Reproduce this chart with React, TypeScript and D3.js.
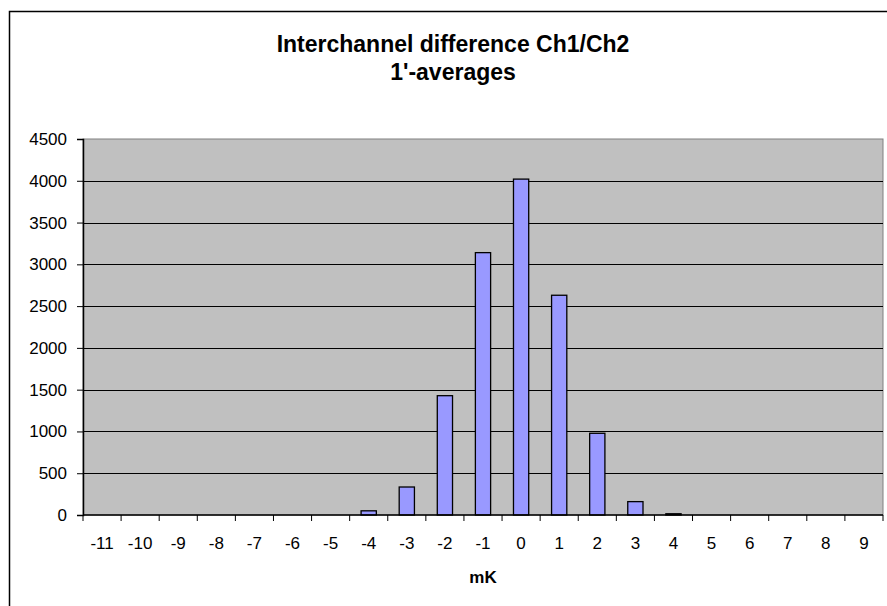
import { useEffect, useRef } from "react"
import * as d3 from "d3"

const categories = ["-11", "-10", "-9", "-8", "-7", "-6", "-5", "-4", "-3", "-2", "-1", "0", "1", "2", "3", "4", "5", "6", "7", "8", "9"]
const counts = [0, 0, 0, 0, 0, 0, 0, 50, 335, 1428, 3140, 4020, 2630, 978, 160, 15, 0, 0, 0, 0, 0]
const yTicks = [0, 500, 1000, 1500, 2000, 2500, 3000, 3500, 4000, 4500]
const titleLines = ["Interchannel difference Ch1/Ch2", "1'-averages"]
const xTitle = "mK"

export default function App() {
  const svgRef = useRef<SVGSVGElement>(null)

  useEffect(() => {
    if (!svgRef.current) return
    const svg = d3.select(svgRef.current)
    svg.selectAll("*").remove()

    const width = 887
    const height = 606
    const plot = { left: 83, right: 883, top: 139, bottom: 515 }
    const font = "'Liberation Sans', Arial, sans-serif"

    svg.append("rect").attr("width", width).attr("height", height).attr("fill", "#fff")

    // outer chart frame (runs off the right and bottom edge)
    svg.append("rect")
      .attr("x", 9.5)
      .attr("y", 11.5)
      .attr("width", 900)
      .attr("height", 620)
      .attr("fill", "none")
      .attr("stroke", "#000")
      .attr("stroke-width", 1.5)

    const x = d3.scaleBand().domain(categories).range([plot.left, plot.right]).padding(0)
    const y = d3.scaleLinear().domain([0, 4500]).range([plot.bottom, plot.top])

    // plot area
    svg.append("rect")
      .attr("x", plot.left)
      .attr("y", plot.top)
      .attr("width", plot.right - plot.left)
      .attr("height", plot.bottom - plot.top)
      .attr("fill", "#c0c0c0")
      .attr("stroke", "#808080")
      .attr("stroke-width", 1)

    // gridlines
    svg.append("g")
      .selectAll("line")
      .data(yTicks.filter((d) => d > 0 && d < 4500))
      .enter()
      .append("line")
      .attr("x1", plot.left)
      .attr("x2", plot.right)
      .attr("y1", (d) => Math.round(y(d)) + 0.5)
      .attr("y2", (d) => Math.round(y(d)) + 0.5)
      .attr("stroke", "#000")
      .attr("stroke-width", 1)

    // bars
    const barW = x.bandwidth() / 2.5
    svg.append("g")
      .selectAll("rect")
      .data(counts)
      .enter()
      .append("rect")
      .attr("x", (_, i) => (x(categories[i]) as number) + (x.bandwidth() - barW) / 2)
      .attr("y", (d) => y(d))
      .attr("width", barW)
      .attr("height", (d) => plot.bottom - y(d))
      .attr("fill", "#9999ff")
      .attr("stroke", (d) => (d > 0 ? "#000" : "none"))
      .attr("stroke-width", 1.3)

    // y axis
    const yAxis = svg.append("g").attr("transform", `translate(${plot.left},0)`)
      .call(d3.axisLeft(y).tickValues(yTicks).tickSize(6).tickPadding(10).tickFormat((d) => String(d)))
    yAxis.select(".domain").attr("stroke", "#000").attr("stroke-width", 1.5)
    yAxis.selectAll(".tick line").attr("stroke", "#000")
    yAxis.selectAll("text").attr("font-family", font).attr("font-size", 17).attr("fill", "#000")

    // x axis: ticks at category boundaries
    const xg = svg.append("g")
    xg.append("line")
      .attr("x1", plot.left)
      .attr("x2", plot.right)
      .attr("y1", plot.bottom)
      .attr("y2", plot.bottom)
      .attr("stroke", "#000")
      .attr("stroke-width", 1.5)
    xg.selectAll(".tk")
      .data(d3.range(categories.length + 1))
      .enter()
      .append("line")
      .attr("x1", (i) => plot.left + i * x.step())
      .attr("x2", (i) => plot.left + i * x.step())
      .attr("y1", plot.bottom)
      .attr("y2", plot.bottom + 6)
      .attr("stroke", "#000")
    xg.selectAll(".lbl")
      .data(categories)
      .enter()
      .append("text")
      .attr("x", (d) => (x(d) as number) + x.bandwidth() / 2)
      .attr("y", 549)
      .attr("text-anchor", "middle")
      .attr("font-family", font)
      .attr("font-size", 17)
      .text((d) => d)

    // titles
    svg.append("text")
      .attr("x", (plot.left + plot.right) / 2)
      .attr("y", 583)
      .attr("text-anchor", "middle")
      .attr("font-family", font)
      .attr("font-weight", "bold")
      .attr("font-size", 17)
      .text(xTitle)

    svg.selectAll(".title")
      .data(titleLines)
      .enter()
      .append("text")
      .attr("x", 453)
      .attr("y", (_, i) => 52 + i * 28)
      .attr("text-anchor", "middle")
      .attr("font-family", font)
      .attr("font-weight", "bold")
      .attr("font-size", 23)
      .text((d) => d)
  }, [])

  return (
    <svg ref={svgRef} width={887} height={606} style={{ position: "absolute", left: 0, top: 0 }} />
  )
}
